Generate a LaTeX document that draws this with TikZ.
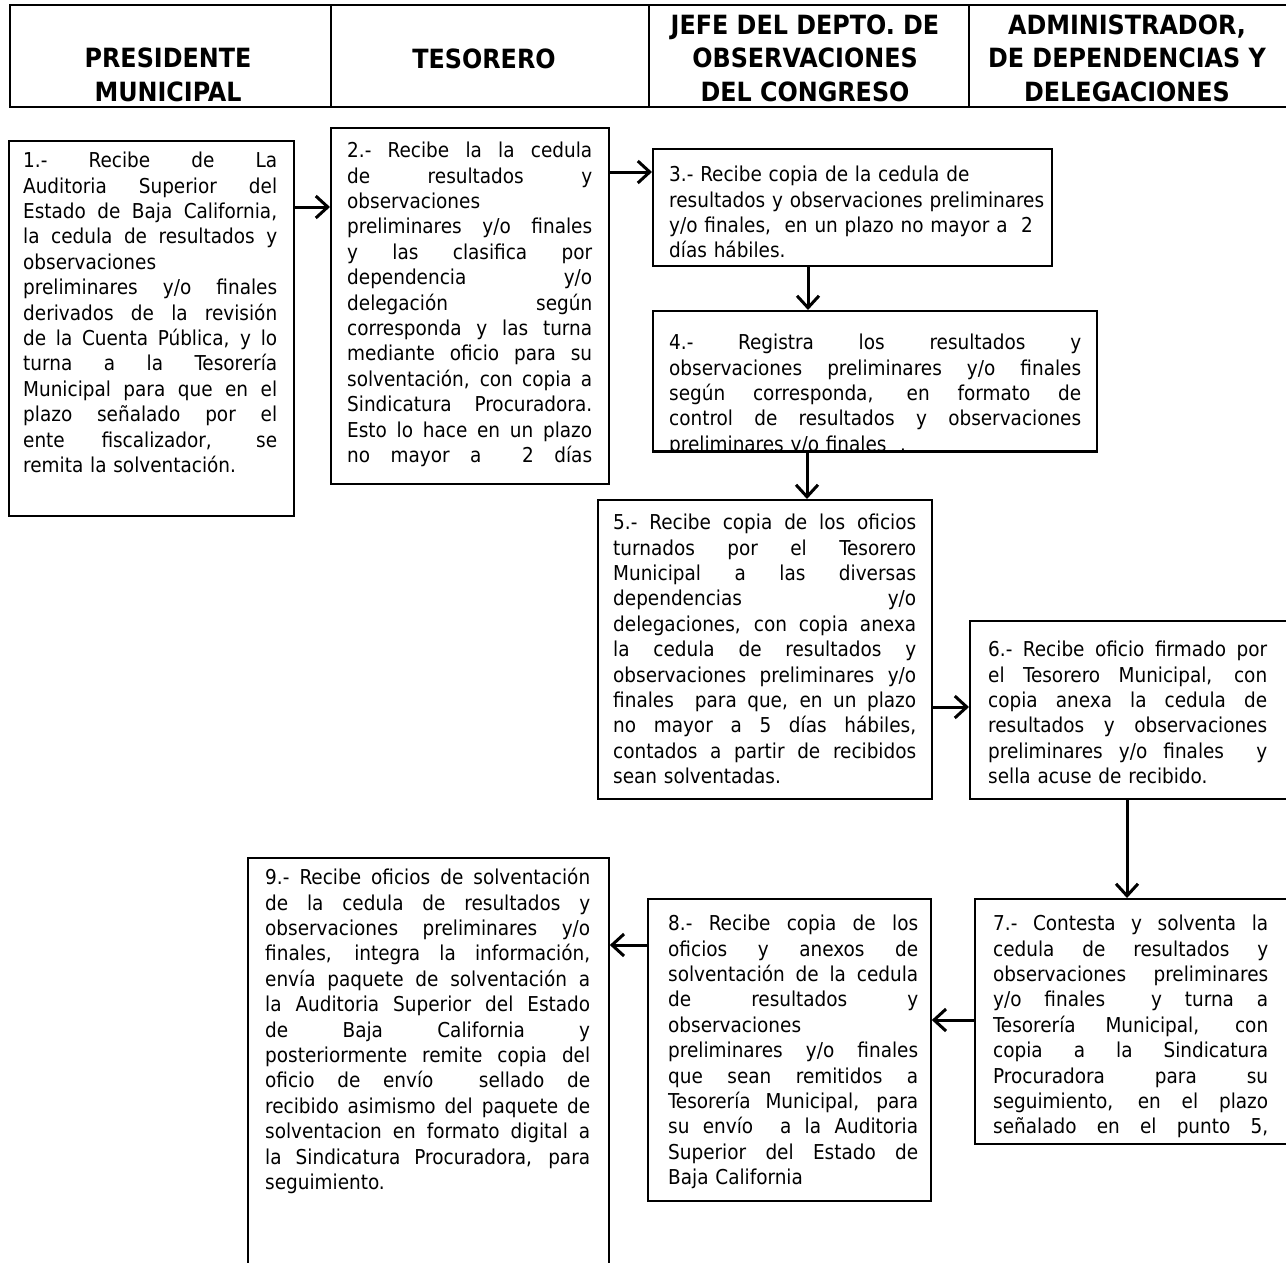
\documentclass[tikz,border=0pt]{standalone}
\usepackage{fontspec}
\setmainfont{DejaVu Sans Condensed}
\usetikzlibrary{arrows.meta}
\newcommand{\jl}[1]{\noindent\hbox to \hsize{\spaceskip=\fontdimen2\font plus 1fil\relax #1}\par}
\newcommand{\lastln}[1]{\noindent #1\par}
\tikzset{
  box/.style={draw, line width=1.8pt, inner sep=0pt, anchor=north west},
  hcell/.style={draw, line width=2pt, inner sep=0pt, anchor=north west, minimum height=102pt},
  txt/.style={inner sep=0pt, anchor=north west, font=\fontsize{20.5}{25.4}\selectfont},
  htxt/.style={inner sep=0pt, anchor=south, align=center, font=\fontsize{26.5}{33.5}\selectfont\bfseries},
  arr/.style={line width=3pt, -{Straight Barb[length=12pt,width=22pt]}}
}
\begin{document}
\begin{tikzpicture}[x=1pt,y=-1pt]
\useasboundingbox (0,0) rectangle (1286,1262);
\clip (0,0) rectangle (1286,1262);
% header
\node[hcell, minimum width=321pt] (h1) at (9,4) {};
\node[hcell, minimum width=318pt] (h2) at (330,4) {};
\node[hcell, minimum width=320pt] (h3) at (648,4) {};
\node[hcell, minimum width=340pt] (h4) at (968,4) {};
\node[htxt] (ht1) at (168,101.7) {PRESIDENTE\\MUNICIPAL};
\node[htxt] (ht2) at (484,69.5) {TESORERO};
\node[htxt] (ht3) at (805,101.7) {JEFE DEL DEPTO. DE\\OBSERVACIONES\\DEL CONGRESO};
\node[htxt] (ht4) at (1127,101.7) {ADMINISTRADOR,\\DE DEPENDENCIAS Y\\DELEGACIONES};
% boxes
\node[box, minimum width=285pt, minimum height=375pt] (b1) at (8,140) {};
\node[box, minimum width=278pt, minimum height=356pt] (b2) at (330,127) {};
\node[box, minimum width=399pt, minimum height=117pt] (b3) at (652,148) {};
\node[box, minimum width=444pt, minimum height=140pt] (b4) at (652,310) {};
\node[box, minimum width=334pt, minimum height=299pt] (b5) at (597,499) {};
\node[box, minimum width=340pt, minimum height=178pt] (b6) at (969,620) {};
\node[box, minimum width=340pt, minimum height=245pt] (b7) at (974,898) {};
\node[box, minimum width=283pt, minimum height=302pt] (b8) at (647,898) {};
\node[box, minimum width=361pt, minimum height=450pt] (b9) at (247,857) {};
% texts
\node[txt, text width=254pt] (t1) at (23,152) {%
\jl{1.- Recibe de La}
\jl{Auditoria Superior del}
\jl{Estado de Baja California,}
\jl{la cedula de resultados y}
\lastln{observaciones}
\jl{preliminares y/o finales}
\jl{derivados de la revisión}
\jl{de la Cuenta Pública, y lo}
\jl{turna a la Tesorería}
\jl{Municipal para que en el}
\jl{plazo señalado por el}
\jl{ente fiscalizador, se}
\lastln{remita la solventación.}};
\node[txt, text width=245pt] (t2) at (347,142) {%
\jl{2.- Recibe la la cedula}
\jl{de resultados y}
\lastln{observaciones}
\jl{preliminares y/o finales}
\jl{y las clasifica por}
\jl{dependencia y/o}
\jl{delegación según}
\jl{corresponda y las turna}
\jl{mediante oficio para su}
\jl{solventación, con copia a}
\jl{Sindicatura Procuradora.}
\jl{Esto lo hace en un plazo}
\jl{no mayor a\ \ 2 días}};
\node[txt, text width=380pt] (t3) at (669,166) {%
\lastln{3.- Recibe copia de la cedula de}
\lastln{resultados y observaciones preliminares}
\lastln{y/o finales,\ \ en un plazo no mayor a\ \ 2}
\lastln{días hábiles.}};
\begin{scope}
\clip (b4.north west) rectangle (b4.south east);
\node[txt, text width=412pt] (t4) at (669,334) {%
\jl{4.- Registra los resultados y}
\jl{observaciones preliminares y/o finales}
\jl{según corresponda, en formato de}
\jl{control de resultados y observaciones}
\lastln{preliminares y/o finales\ \ .}};
\end{scope}
\draw[line width=1.8pt] (b4.south west) -- (b4.south east);
\node[txt, text width=303pt] (t5) at (613,514) {%
\jl{5.- Recibe copia de los oficios}
\jl{turnados por el Tesorero}
\jl{Municipal a las diversas}
\jl{dependencias y/o}
\jl{delegaciones, con copia anexa}
\jl{la cedula de resultados y}
\jl{observaciones preliminares y/o}
\jl{finales\ \ para que, en un plazo}
\jl{no mayor a 5 días hábiles,}
\jl{contados a partir de recibidos}
\lastln{sean solventadas.}};
\node[txt, text width=279pt] (t6) at (988,641) {%
\jl{6.- Recibe oficio firmado por}
\jl{el Tesorero Municipal, con}
\jl{copia anexa la cedula de}
\jl{resultados y observaciones}
\jl{preliminares y/o finales\ \ y}
\lastln{sella acuse de recibido.}};
\node[txt, text width=275pt] (t7) at (993,915) {%
\jl{7.- Contesta y solventa la}
\jl{cedula de resultados y}
\jl{observaciones preliminares}
\jl{y/o finales\ \ y turna a}
\jl{Tesorería Municipal, con}
\jl{copia a la Sindicatura}
\jl{Procuradora para su}
\jl{seguimiento, en el plazo}
\jl{señalado en el punto 5,}};
\node[txt, text width=250pt] (t8) at (668,915) {%
\jl{8.- Recibe copia de los}
\jl{oficios y anexos de}
\jl{solventación de la cedula}
\jl{de resultados y}
\lastln{observaciones}
\jl{preliminares y/o finales}
\jl{que sean remitidos a}
\jl{Tesorería Municipal, para}
\jl{su envío\ \ a la Auditoria}
\jl{Superior del Estado de}
\lastln{Baja California}};
\node[txt, text width=325pt] (t9) at (265,868) {%
\jl{9.- Recibe oficios de solventación}
\jl{de la cedula de resultados y}
\jl{observaciones preliminares y/o}
\jl{finales, integra la información,}
\jl{envía paquete de solventación a}
\jl{la Auditoria Superior del Estado}
\jl{de Baja California y}
\jl{posteriormente remite copia del}
\jl{oficio de envío\ \ sellado de}
\jl{recibido asimismo del paquete de}
\jl{solventacion en formato digital a}
\jl{la Sindicatura Procuradora, para}
\lastln{seguimiento.}};
% connectors
\coordinate (y12) at (0,207);
\coordinate (y23) at (0,172);
\coordinate (x34) at (808,0);
\coordinate (x45) at (807,0);
\coordinate (y56) at (0,707);
\coordinate (x67) at (1127,0);
\coordinate (y78) at (0,1020);
\coordinate (y89) at (0,945);
\draw[arr] (b1.east |- y12) -- (b2.west |- y12);
\draw[arr] (b2.east |- y23) -- (b3.west |- y23);
\draw[arr] (b3.south -| x34) -- (b4.north -| x34);
\draw[arr] (b4.south -| x45) -- (b5.north -| x45);
\draw[arr] (b5.east |- y56) -- (b6.west |- y56);
\draw[arr] (b6.south -| x67) -- (b7.north -| x67);
\draw[arr] (b7.west |- y78) -- (b8.east |- y78);
\draw[arr] (b8.west |- y89) -- (b9.east |- y89);
\end{tikzpicture}
\end{document}
